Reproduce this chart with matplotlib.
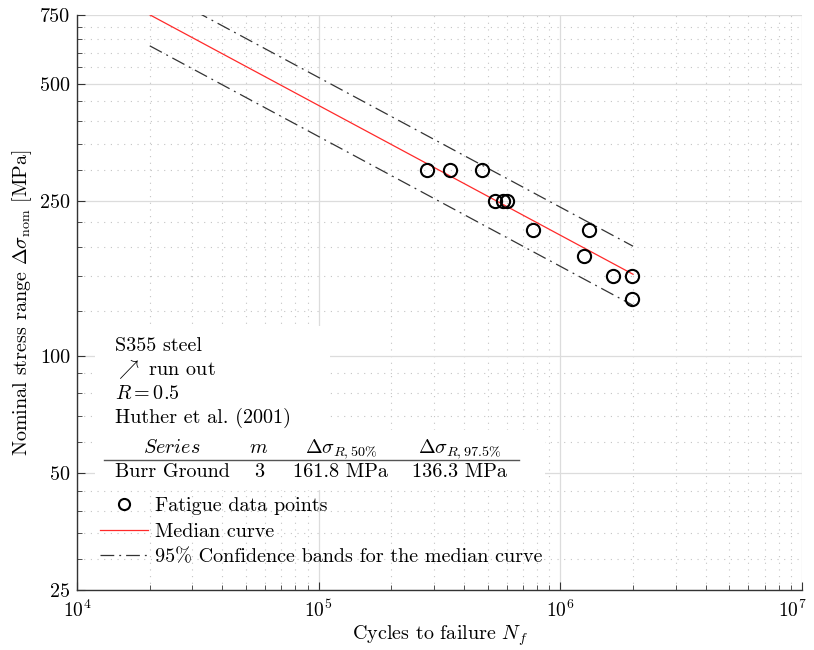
import numpy as np
import matplotlib
matplotlib.use("Agg")
import matplotlib.pyplot as plt
import matplotlib.transforms as mtransforms
from matplotlib.patches import Rectangle
from matplotlib.lines import Line2D
from matplotlib.ticker import FixedLocator, NullFormatter, LogLocator

FS = 14.5
plt.rcParams['font.family'] = 'serif'
plt.rcParams['font.serif'] = ['cmr10']
plt.rcParams['mathtext.fontset'] = 'cm'
plt.rcParams['axes.formatter.use_mathtext'] = True
plt.rcParams['axes.unicode_minus'] = False
plt.rcParams['font.size'] = FS

# fatigue test data
cycles = [2.80e5, 3.49e5, 4.75e5, 5.36e5, 5.77e5, 6.0e5,
          7.73e5, 1.317e6, 1.256e6, 1.646e6, 1.972e6, 1.972e6]
stress = [300, 300, 300, 250, 250, 250, 210, 210, 180, 160, 160, 140]

# median curve and 95% confidence bands (end points)
curve_N = [2e4, 2e6]
median_S = [751, 161.8]
upper_S = [886, 191.0]
lower_S = [625, 134.6]

yticks = [25, 50, 100, 250, 500, 750]
xticks = [1e4, 1e5, 1e6, 1e7]
xticklabels = ['$10^{4}$', '$10^{5}$', '$10^{6}$', '$10^{7}$']

fig = plt.figure(figsize=(8.14, 6.5), dpi=100)
ax = fig.add_axes([77/814, 1-590/650, 725/814, 575/650])

ax.set_xscale('log')
ax.set_yscale('log')
ax.set_xlim(1e4, 1e7)
ax.set_ylim(25, 750)

band_ls = (0, (11, 4, 1.5, 4))
ax.plot(curve_N, upper_S, color='#333333', lw=0.9, ls=band_ls, zorder=3)
ax.plot(curve_N, lower_S, color='#333333', lw=0.9, ls=band_ls, zorder=3)
ax.plot(curve_N, median_S, color='#ff2a2a', lw=0.9, zorder=3)
ax.plot(cycles, stress, 'o', mfc='none', mec='black', mew=1.5, ms=9.5, zorder=4)

# ticks
ax.yaxis.set_major_locator(FixedLocator(yticks))
ax.set_yticklabels([str(t) for t in yticks])
yminor = []
for a, b in zip(yticks[:-1], yticks[1:]):
    yminor += list(np.linspace(a, b, 6)[1:-1])
ax.yaxis.set_minor_locator(FixedLocator(yminor))
ax.yaxis.set_minor_formatter(NullFormatter())
ax.xaxis.set_major_locator(FixedLocator(xticks))
ax.set_xticklabels(xticklabels)
ax.xaxis.set_minor_locator(LogLocator(base=10, subs=np.arange(2, 10), numticks=20))
ax.xaxis.set_minor_formatter(NullFormatter())
ax.tick_params(which='both', direction='in', colors='#333333', labelcolor='black', labelsize=FS)
ax.tick_params(axis='x', labelsize=14)
ax.tick_params(which='major', length=5.5, width=0.8)
ax.tick_params(which='minor', length=3.5, width=0.6)
ax.tick_params(axis='x', pad=7)
ax.tick_params(axis='y', pad=5)

# keep the last x label inside the figure
last = ax.get_xticklabels()[-1]
last.set_transform(last.get_transform() + mtransforms.ScaledTranslation(-7/72, 0, fig.dpi_scale_trans))

ax.grid(which='major', color='#dcdcdc', lw=0.9, ls='-', zorder=0)
ax.grid(which='minor', color='#c4c4c4', lw=0.8, ls=(0, (1, 5)), zorder=0)
ax.set_axisbelow(True)
for s in ['top', 'right']:
    ax.spines[s].set_visible(False)
for s in ['left', 'bottom']:
    ax.spines[s].set_color('#333333')
    ax.spines[s].set_linewidth(1.0)

ax.set_xlabel('Cycles to failure $N_f$', fontsize=FS, labelpad=2)
ax.set_ylabel(r'Nominal stress range $\Delta\sigma_{\rm nom}$ [MPa]', fontsize=FS, labelpad=4)

# white boxes behind annotation
ax.add_patch(Rectangle((0.0248, 0.278), 0.324, 0.181, transform=ax.transAxes,
                       facecolor='white', edgecolor='none', zorder=1))
ax.add_patch(Rectangle((0.0248, 0.174), 0.621, 0.105, transform=ax.transAxes,
                       facecolor='white', edgecolor='none', zorder=1))

info = ['S355 steel', r'$\nearrow$ run out', '$R = 0.5$', 'Huther et al. (2001)']
info_y = [0.4162, 0.3739, 0.3317, 0.2900]
for t, yy in zip(info, info_y):
    ax.text(0.0524, yy, t, transform=ax.transAxes, va='baseline', ha='left', fontsize=FS, zorder=5)

header = ['$Series$', '$m$', r'$\Delta\sigma_{R,50\%}$', r'$\Delta\sigma_{R,97.5\%}$']
row = ['Burr Ground', '3', '161.8 MPa', '136.3 MPa']
col_x = [0.131, 0.251, 0.364, 0.528]
for h, r, cx in zip(header, row, col_x):
    ax.text(cx, 0.2377, h, transform=ax.transAxes, ha='center', va='baseline', fontsize=FS, zorder=5)
    ax.text(cx, 0.1971, r, transform=ax.transAxes, ha='center', va='baseline', fontsize=FS, zorder=5)
ax.plot([0.0372, 0.609], [0.2261, 0.2261], transform=ax.transAxes, color='#555555', lw=1.0, zorder=5)

handles = [Line2D([], [], marker='o', ls='none', mfc='none', mec='black', mew=1.5, ms=8),
           Line2D([], [], color='#ff2a2a', lw=0.9),
           Line2D([], [], color='#333333', lw=0.9, ls=band_ls)]
labels = ['Fatigue data points', 'Median curve', '95% Confidence bands for the median curve']
ax.legend(handles, labels, loc='upper left', bbox_to_anchor=(0.0317, 0.162), frameon=False,
          borderpad=0, borderaxespad=0, handlelength=2.4, handletextpad=0.35,
          labelspacing=0.38, fontsize=FS)

fig.savefig('out.png', dpi=100)
